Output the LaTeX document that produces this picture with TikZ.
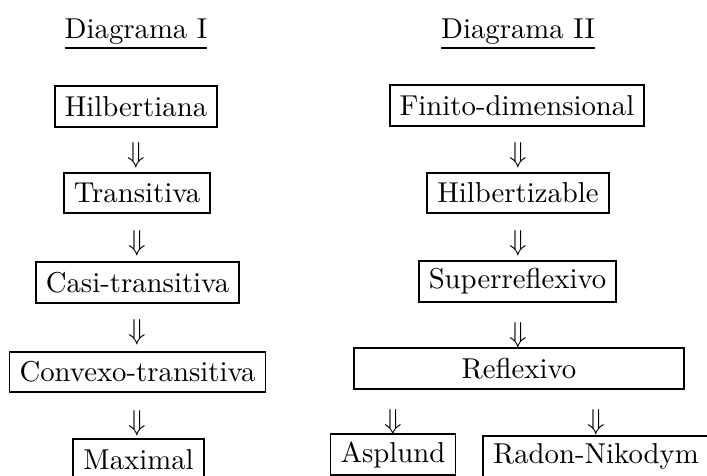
\documentclass[tikz,border=0pt]{standalone}
\begin{document}
\begin{tikzpicture}[x=0.34783pt,y=-0.34783pt,
  box/.style={draw,line width=0.65pt,inner xsep=3.5pt,inner ysep=0pt,minimum height=14.2pt,font=\normalsize},
  imp/.style={inner sep=0pt},
  ttl/.style={anchor=base,inner sep=0pt}]
\useasboundingbox (0,0) rectangle (707,475);
\clip (0,0) rectangle (707,475);
% Diagram I
\node[ttl] (t1) at (136,38) {\underline{Diagrama I}};
\node[box] (h1) at (136,106.5) {Hilbertiana};
\node[imp] (a1) at (136.5,155) {$\Downarrow$};
\node[box] (h2) at (137,193) {Transitiva};
\node[imp] (a2) at (137,243.5) {$\Downarrow$};
\node[box] (h3) at (137.5,282.5) {Casi-transitiva};
\node[imp] (a3) at (137,332.5) {$\Downarrow$};
\node[box] (h4) at (137.5,372) {Convexo-transitiva};
\node[imp] (a4) at (137.5,423) {$\Downarrow$};
\node[box] (h5) at (138.5,459.5) {Maximal};
% Diagram II
\node[ttl] (t2) at (518,38) {\underline{Diagrama II}};
\node[box] (k1) at (517,105.5) {Finito-dimensional};
\node[imp] (b1) at (518,155) {$\Downarrow$};
\node[box] (k2) at (518,193) {Hilbertizable};
\node[imp] (b2) at (518,243.5) {$\Downarrow$};
\node[box] (k3) at (517.5,281.5) {Superreflexivo};
\node[imp] (b3) at (518,335) {$\Downarrow$};
\node[box,minimum width=114.8pt] (k4) at (519,368.5) {Reflexivo};
\node[imp] (b4) at (393,422) {$\Downarrow$};
\node[imp] (b5) at (596,422) {$\Downarrow$};
\node[box] (k5) at (393,454.5) {Asplund};
\node[box] (k6) at (596,456.5) {Radon-Nikodym};
\end{tikzpicture}
\end{document}
